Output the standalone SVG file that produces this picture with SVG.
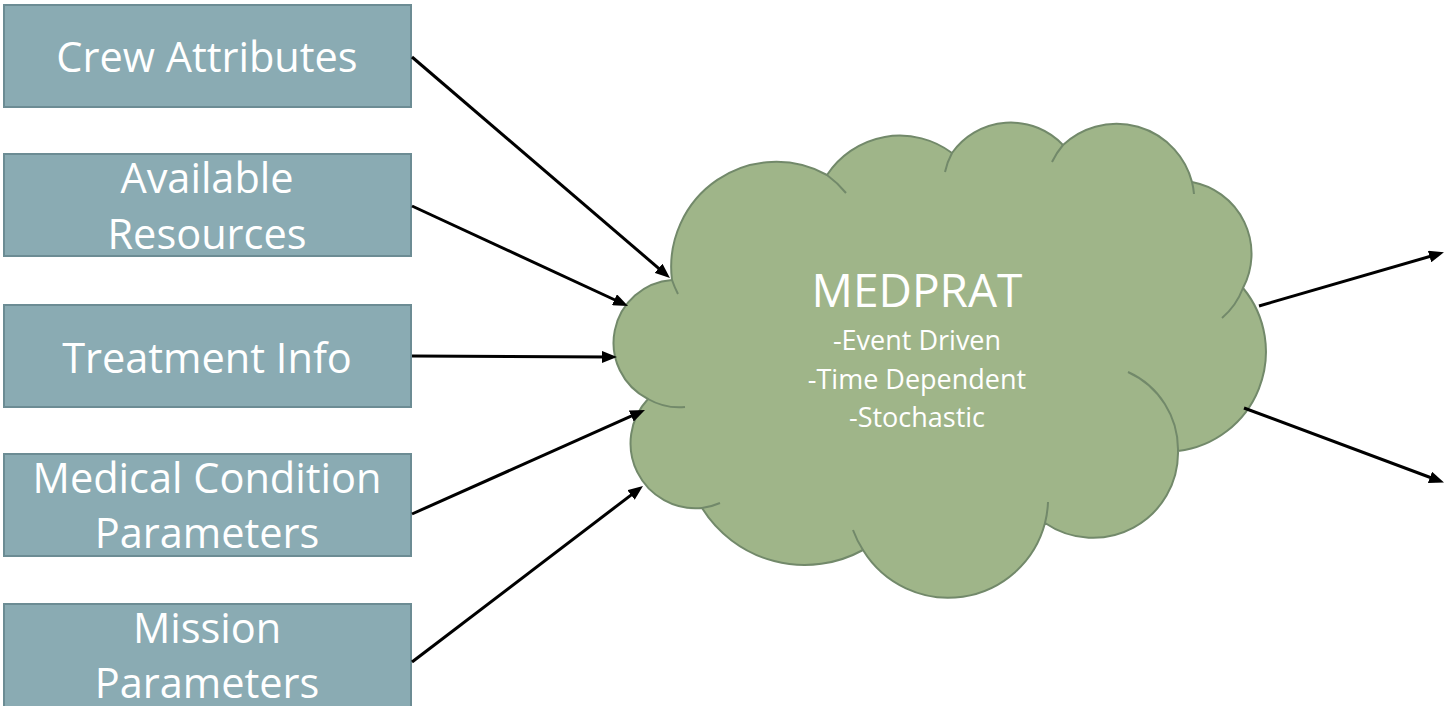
<svg xmlns="http://www.w3.org/2000/svg" width="1445" height="706" viewBox="0 0 1445 706">
<style>
.box{fill:#8AABB3;stroke:#6C8C94;stroke-width:2}
.bt{font-family:"Open Sans","Liberation Sans",sans-serif;font-size:41.5px;fill:#FFFFFF;text-anchor:middle}
.ct{font-family:"Open Sans","Liberation Sans",sans-serif;fill:#FFFFFF;text-anchor:middle}
.cloud{fill:#9FB589;stroke:#72896A;stroke-width:2;stroke-linejoin:round}
.inner{fill:none;stroke:#72896A;stroke-width:2}
.conn{stroke:#000000;stroke-width:3;fill:none}
</style>
<defs>
<marker id="ah" viewBox="0 0 10 8" refX="6" refY="4" markerWidth="5" markerHeight="4" orient="auto" markerUnits="strokeWidth">
<path d="M0,0 L10,4 L0,8 Z" fill="#000000"/>
</marker>
</defs>
<g id="crew"><rect class="box" x="4" y="5" width="407" height="102"/><text class="bt" x="207" y="72">Crew Attributes</text></g>
<g id="resources"><rect class="box" x="4" y="154" width="407" height="102"/><text class="bt" x="207" y="193">Available</text><text class="bt" x="207" y="249">Resources</text></g>
<g id="treatment"><rect class="box" x="4" y="305" width="407" height="102"/><text class="bt" x="207" y="373">Treatment Info</text></g>
<g id="medical"><rect class="box" x="4" y="454" width="407" height="102"/><text class="bt" x="207" y="493">Medical Condition</text><text class="bt" x="207" y="548">Parameters</text></g>
<g id="mission"><rect class="box" x="4" y="604" width="407" height="104"/><text class="bt" x="207" y="643">Mission</text><text class="bt" x="207" y="698">Parameters</text></g>
<g id="medprat">
<path class="cloud" d="M672,280 A105,105 0 0 1 827,175 A87,87 0 0 1 952,153 A72,72 0 0 1 1063,145 A78,78 0 0 1 1192,182 A73,73 0 0 1 1243,288 A100,100 0 0 1 1178,451 A85,85 0 0 1 1045,523 A100,100 0 0 1 863,550 A121,121 0 0 1 702,508 A65,65 0 0 1 648,399 A63,63 0 0 1 672,280 Z"/>
<path class="inner" d="M678,294 A105,105 0 0 1 672,280 M827,175 A105,105 0 0 1 846,193 M945,172 A72,72 0 0 1 952,153 M1052,162 A78,78 0 0 1 1063,145 M1192,182 A78,78 0 0 1 1194,194 M1243,288 A73,73 0 0 1 1222,318 M1128,372 A85,85 0 0 1 1178,451 M1048,502 A100,100 0 0 1 1045,523 M863,550 A100,100 0 0 1 853,530 M720,503 A65,65 0 0 1 702,508 M685,407 A63,63 0 0 1 648,399"/>
<text class="ct" x="917" y="307" font-size="46">MEDPRAT</text>
<text class="ct" x="917" y="350" font-size="27">-Event Driven</text>
<text class="ct" x="917" y="388.5" font-size="27">-Time Dependent</text>
<text class="ct" x="917" y="427" font-size="27">-Stochastic</text>
</g>
<g id="connectors">
<line class="conn" x1="412" y1="57" x2="665.4" y2="274.1" marker-end="url(#ah)"/>
<line class="conn" x1="412" y1="206" x2="622.6" y2="303.5" marker-end="url(#ah)"/>
<line class="conn" x1="412" y1="356" x2="611" y2="357" marker-end="url(#ah)"/>
<line class="conn" x1="412" y1="514" x2="639.5" y2="412.4" marker-end="url(#ah)"/>
<line class="conn" x1="412" y1="662" x2="638.2" y2="489.6" marker-end="url(#ah)"/>
<line class="conn" x1="1259" y1="306" x2="1438.2" y2="254" marker-end="url(#ah)"/>
<line class="conn" x1="1244" y1="408" x2="1438.4" y2="480.5" marker-end="url(#ah)"/>
</g>
</svg>
